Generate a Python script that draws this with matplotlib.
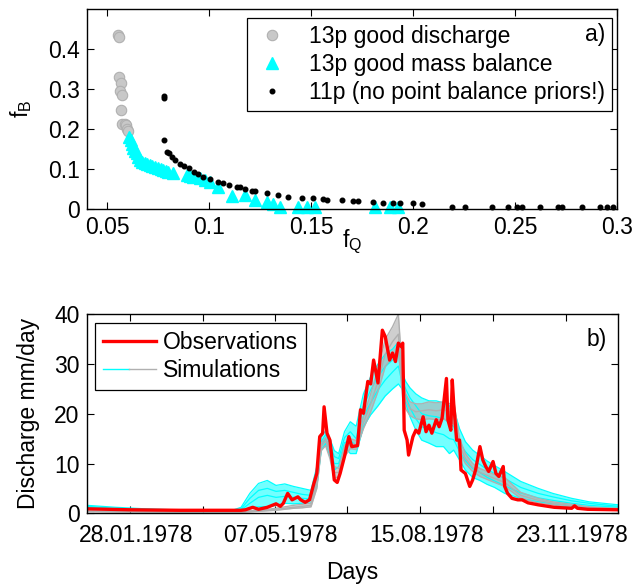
import numpy as np
import matplotlib
matplotlib.use("Agg")
import matplotlib.pyplot as plt
import matplotlib.dates as mdates
from matplotlib.legend_handler import HandlerTuple
from matplotlib.lines import Line2D
from matplotlib.transforms import ScaledTranslation

plt.rcParams['font.family'] = ['Liberation Sans', 'DejaVu Sans']
plt.rcParams['mathtext.default'] = 'regular'
plt.rcParams['font.size'] = 16.5

# --- panel a): f_Q vs f_B ---
fq_discharge = [0.0556, 0.0560, 0.0557, 0.0567, 0.0561, 0.0575, 0.0570, 0.0571,
                0.0586, 0.0593, 0.0598, 0.0604]
fb_discharge = [0.437, 0.432, 0.331, 0.316, 0.296, 0.285, 0.248, 0.213,
                0.213, 0.210, 0.200, 0.195]

fq_massbal = [0.0609, 0.0615, 0.0621, 0.0629, 0.0637, 0.0645, 0.0653, 0.0661,
              0.0673, 0.0686, 0.0698, 0.0710, 0.0722, 0.0735, 0.0751, 0.0763,
              0.0776, 0.0788, 0.0800, 0.0825, 0.0890, 0.0905, 0.0923, 0.0956,
              0.0980, 0.1005, 0.1045, 0.1111, 0.1176, 0.1225, 0.1282, 0.1315,
              0.1348, 0.1438, 0.1479, 0.1519, 0.1814, 0.1887, 0.1928]
fb_massbal = [0.181, 0.172, 0.164, 0.152, 0.146, 0.139, 0.130, 0.1225,
              0.118, 0.114, 0.112, 0.110, 0.108, 0.106, 0.102, 0.100,
              0.0975, 0.095, 0.093, 0.089, 0.085, 0.083, 0.081, 0.077,
              0.072, 0.068, 0.056, 0.0325, 0.035, 0.0225, 0.018, 0.0125,
              0.006, 0.004, 0.004, 0.004, 0.004, 0.004, 0.004]

fq_11p = [0.0779, 0.0781, 0.0779, 0.0792, 0.0805, 0.0817, 0.0833, 0.0857,
          0.0877, 0.0903, 0.0926, 0.0947, 0.0972, 0.1005, 0.1045, 0.1070,
          0.1099, 0.1135, 0.1152, 0.1176, 0.1209, 0.1225, 0.1282, 0.1339,
          0.1388, 0.1454, 0.1511, 0.1560, 0.1577, 0.1650, 0.1707, 0.1732,
          0.1805, 0.1854, 0.1903, 0.1936, 0.2001, 0.2043, 0.2190, 0.2255,
          0.2386, 0.2467, 0.2508, 0.2533, 0.2623, 0.2712, 0.2729, 0.2827,
          0.2917, 0.2950, 0.2982]
fb_11p = [0.283, 0.278, 0.1725, 0.143, 0.139, 0.131, 0.1225, 0.112,
          0.1075, 0.102, 0.093, 0.0875, 0.081, 0.074, 0.068, 0.064,
          0.060, 0.056, 0.056, 0.049, 0.046, 0.046, 0.039, 0.035,
          0.031, 0.028, 0.027, 0.024, 0.0225, 0.0225, 0.019, 0.019,
          0.017, 0.015, 0.014, 0.014, 0.014, 0.0125, 0.004, 0.004,
          0.004, 0.005, 0.004, 0.004, 0.004, 0.004, 0.004, 0.004,
          0.004, 0.004, 0.004]

# --- panel b): discharge, days counted from 29.12.1977 ---
start_date = np.datetime64('1977-12-29')
obs_day = [0, 30, 64, 106, 109, 114, 118, 124, 130, 133, 135, 138, 141, 145, 147,
           150, 153, 156, 158, 160, 162, 163, 165, 167, 170, 172, 174, 177, 180,
           182, 186, 188, 190, 193, 195, 197, 200, 203, 205, 208, 210, 212, 214,
           216, 217, 218, 220, 221, 224, 226, 228, 231, 233, 235, 237, 240, 242,
           244, 247, 248, 250, 251, 252, 254, 256, 257, 260, 263, 265, 267, 270,
           272, 274, 276, 279, 281, 283, 286, 287, 289, 292, 296, 299, 303, 310,
           321, 333, 335, 337, 344, 365]
obs_q = [0.9, 0.7, 0.6, 0.6, 0.7, 1.2, 0.8, 1.2, 1.9, 1.4, 2.0, 4.0, 2.7, 3.3, 2.7,
         2.2, 2.7, 6.0, 8.0, 15.4, 16.1, 21.4, 16.1, 14.7, 6.7, 6.2, 8.0, 11.4, 15.4,
         13.4, 13.6, 20.8, 20.1, 26.5, 26.0, 30.8, 26.2, 36.8, 35.5, 30.8, 32.2, 30.5, 34.2,
         33.5, 34.2, 16.7, 14.7, 11.7, 15.4, 16.7, 16.1, 19.4, 16.4, 17.7, 16.1, 18.8, 17.4,
         19.1, 27.1, 18.8, 16.7, 26.8, 22.0, 14.7, 14.7, 8.7, 8.0, 5.4, 6.7, 8.7, 13.4,
         10.7, 9.4, 8.4, 10.4, 8.0, 7.4, 9.4, 5.4, 4.0, 3.0, 2.7, 2.7, 2.1, 1.7,
         1.2, 1.0, 1.5, 1.0, 0.8, 0.7]

sim_day = [0, 20, 40, 60, 80, 100, 106, 112, 118, 124, 130, 136, 142, 148, 154,
           158, 161, 164, 167, 170, 173, 177, 181, 185, 190, 195, 200, 205, 210, 214,
           217, 219, 222, 226, 230, 235, 240, 245, 249, 252, 256, 260,
           265, 270, 275, 280, 287, 298, 310, 320, 333, 345, 355, 365]
cyan_sims = [
    [1.6, 1.2, 0.9, 0.7, 0.6, 0.6, 1.2, 4.0, 6.0, 6.6, 5.6, 5.9, 5.4, 5.0, 4.6,
     9.4, 15.2, 16.6, 15.0, 12.6, 12.0, 16.4, 18.4, 17.5, 24.0, 27.5, 30.0, 32.0, 33.0, 34.4,
     28.0, 26.5, 25.2, 24.0, 23.2, 22.6, 22.6, 22.2, 21.6, 21.0, 17.0, 14.4,
     12.7, 11.6, 10.5, 9.6, 8.4, 6.4, 5.0, 4.0, 3.0, 2.3, 2.0, 1.7],
    [1.4, 1.0, 0.8, 0.6, 0.55, 0.55, 0.9, 3.0, 4.6, 5.0, 4.4, 4.6, 4.2, 3.8, 3.6,
     8.2, 14.4, 15.8, 14.0, 11.4, 11.0, 15.2, 16.4, 15.0, 21.5, 24.8, 27.5, 29.5, 30.8, 32.0,
     26.4, 25.0, 23.2, 21.6, 20.0, 19.6, 19.4, 19.0, 18.2, 17.4, 14.2, 12.4,
     10.8, 9.8, 8.8, 8.0, 7.0, 5.2, 4.0, 3.3, 2.5, 2.0, 1.7, 1.4],
    [1.25, 0.9, 0.7, 0.55, 0.5, 0.5, 0.7, 2.0, 3.2, 3.6, 3.2, 3.4, 3.2, 3.0, 2.9,
     7.0, 13.6, 15.0, 12.8, 10.0, 10.0, 14.2, 14.6, 13.6, 19.5, 22.2, 24.8, 26.8, 28.4, 29.6,
     25.6, 23.6, 21.2, 19.0, 17.4, 16.8, 16.2, 15.8, 15.0, 14.8, 12.4, 10.6,
     9.0, 8.2, 7.2, 6.5, 5.5, 4.1, 3.1, 2.6, 2.0, 1.6, 1.4, 1.2],
    [1.1, 0.8, 0.6, 0.5, 0.5, 0.5, 0.6, 1.0, 1.3, 1.3, 1.6, 2.0, 1.9, 2.0, 2.0,
     5.4, 12.6, 14.0, 11.4, 8.7, 9.4, 13.4, 12.0, 12.0, 17.4, 19.8, 21.6, 23.6, 25.0, 26.0,
     24.8, 22.1, 19.4, 16.7, 14.7, 14.1, 13.4, 13.4, 12.0, 12.7, 10.7, 8.7,
     7.2, 6.6, 5.8, 5.2, 4.0, 3.0, 2.3, 1.9, 1.5, 1.2, 1.1, 1.0],
]
gray_sims = [
    [0.5, 0.4, 0.35, 0.3, 0.3, 0.3, 0.3, 0.5, 0.6, 0.8, 1.0, 1.3, 1.6, 1.8, 2.0,
     6.5, 14.0, 15.2, 13.0, 9.4, 9.0, 13.6, 15.0, 14.6, 19.5, 24.0, 29.0, 35.0, 37.5, 40.0,
     27.0, 24.0, 22.4, 22.0, 22.0, 22.4, 22.2, 22.4, 22.0, 22.6, 15.0, 12.0,
     10.0, 9.0, 8.4, 7.8, 7.2, 4.2, 3.0, 2.3, 1.8, 1.3, 1.1, 1.0],
    [0.4, 0.35, 0.3, 0.3, 0.3, 0.3, 0.3, 0.4, 0.5, 0.6, 0.8, 1.0, 1.2, 1.4, 1.6,
     5.8, 13.4, 14.6, 12.2, 8.2, 8.2, 12.6, 14.0, 13.8, 18.2, 22.0, 26.5, 32.0, 34.5, 36.0,
     25.0, 22.6, 21.0, 20.4, 20.6, 20.8, 20.6, 20.8, 20.4, 20.0, 13.6, 11.0,
     9.2, 8.2, 7.6, 7.0, 6.2, 3.6, 2.6, 2.0, 1.5, 1.1, 0.9, 0.8],
    [0.35, 0.3, 0.3, 0.25, 0.25, 0.25, 0.25, 0.3, 0.4, 0.5, 0.6, 0.8, 1.0, 1.1, 1.3,
     5.0, 12.6, 13.6, 11.0, 7.0, 7.4, 11.4, 13.0, 12.8, 17.0, 20.4, 24.5, 29.5, 31.5, 33.0,
     23.0, 21.0, 19.6, 19.0, 18.8, 19.0, 18.8, 19.0, 18.4, 18.0, 12.4, 10.0,
     8.4, 7.4, 6.8, 6.2, 5.4, 3.0, 2.1, 1.7, 1.2, 0.9, 0.8, 0.7],
]
date_labels = ['1978-01-28', '1978-05-07', '1978-08-15', '1978-11-23']
date_minor = ['1978-03-19', '1978-06-26', '1978-10-04']

CYAN = '#00ffff'
GRAY = '#b0b0b0'

fig = plt.figure(figsize=(6.35, 5.87), dpi=100)

# ---------------- a) ----------------
ax1 = fig.add_axes([0.1365, 0.644, 0.835, 0.340])
ax1.plot(fq_discharge, fb_discharge, 'o', color='#c8c8c8', mec='#b0b0b0',
         ms=7.5, mew=0.8, label='13p good discharge', clip_on=False)
ax1.plot(fq_massbal, fb_massbal, '^', color=CYAN, mec=CYAN,
         ms=8.5, label='13p good mass balance', clip_on=False)
ax1.plot(fq_11p, fb_11p, 'o', color='k', ms=3.3, label='11p (no point balance priors!)',
         clip_on=False)
ax1.set_xlim(0.04, 0.3)
ax1.set_ylim(0, 0.5)
ax1.set_xticks([0.05, 0.1, 0.15, 0.2, 0.25, 0.3])
ax1.set_xticklabels(['0.05', '0.1', '0.15', '0.2', '0.25', '0.3'])
ax1.set_yticks([0, 0.1, 0.2, 0.3, 0.4])
ax1.set_yticklabels(['0', '0.1', '0.2', '0.3', '0.4'])
ax1.tick_params(direction='in', top=True, right=True, length=5, width=0.8, pad=5)
ax1.set_xlabel('$f_Q$', labelpad=-8)
ax1.set_ylabel('$f_B$', labelpad=10)
leg1 = ax1.legend(loc='upper right', bbox_to_anchor=(0.99, 0.955), borderaxespad=0,
                  fancybox=False, edgecolor='k', framealpha=1, numpoints=1,
                  handletextpad=0.8, labelspacing=0.22, borderpad=0.3, handlelength=1.6)
leg1.get_frame().set_linewidth(0.9)
ax1.text(0.978, 0.93, 'a)', transform=ax1.transAxes, ha='right', va='top', zorder=10)

# ---------------- b) ----------------
ax2 = fig.add_axes([0.1365, 0.1256, 0.8372, 0.339])
sim_dates = start_date + np.array(sim_day).astype('timedelta64[D]')
obs_dates = start_date + np.array(obs_day).astype('timedelta64[D]')

cyan_arr = np.array(cyan_sims)
gray_arr = np.array(gray_sims)
ax2.fill_between(sim_dates, cyan_arr.min(axis=0), cyan_arr.max(axis=0),
                 color=CYAN, alpha=0.55, lw=0)
for s in cyan_sims:
    ax2.plot(sim_dates, s, color=CYAN, lw=0.9)
ax2.fill_between(sim_dates, gray_arr.min(axis=0), gray_arr.max(axis=0),
                 color=GRAY, alpha=0.6, lw=0)
for s in gray_sims:
    ax2.plot(sim_dates, s, color=GRAY, lw=1.0)
obs_line, = ax2.plot(obs_dates, obs_q, color='#ff0000', lw=2.4)

ax2.set_xlim(start_date, start_date + np.timedelta64(365, 'D'))
ax2.set_ylim(0, 40)
ax2.set_yticks([0, 10, 20, 30, 40])
ax2.set_xticks(np.array(date_labels, dtype='datetime64[D]'))
ax2.set_xticks(np.array(date_minor, dtype='datetime64[D]'), minor=True)
ax2.xaxis.set_major_formatter(mdates.DateFormatter('%d.%m.%Y'))
ax2.tick_params(which='both', direction='in', top=True, right=True, length=5,
                width=0.8, pad=5)
ax2.tick_params(axis='x', pad=8)
ax2.set_xlabel('Days', labelpad=10)
ax2.set_ylabel('Discharge mm/day', labelpad=10)

# date labels sit a few pixels right of their ticks in the original
shift = ScaledTranslation(0.06, 0, fig.dpi_scale_trans)
for lab in ax2.get_xticklabels():
    lab.set_transform(lab.get_transform() + shift)

cyan_h = Line2D([], [], color=CYAN, lw=1)
gray_h = Line2D([], [], color=GRAY, lw=1)
leg2 = ax2.legend([obs_line, (cyan_h, gray_h)], ['Observations', 'Simulations'],
                  handler_map={tuple: HandlerTuple(ndivide=None, pad=0)},
                  loc='upper left', bbox_to_anchor=(0.0156, 0.955), borderaxespad=0,
                  fancybox=False, edgecolor='k', framealpha=1,
                  handlelength=2.3, handletextpad=0.3, labelspacing=0.22, borderpad=0.35)
leg2.get_frame().set_linewidth(0.9)
ax2.text(0.979, 0.93, 'b)', transform=ax2.transAxes, ha='right', va='top', zorder=10)

for ax in (ax1, ax2):
    for sp in ax.spines.values():
        sp.set_linewidth(1.0)

fig.savefig('out.png', dpi=100)
